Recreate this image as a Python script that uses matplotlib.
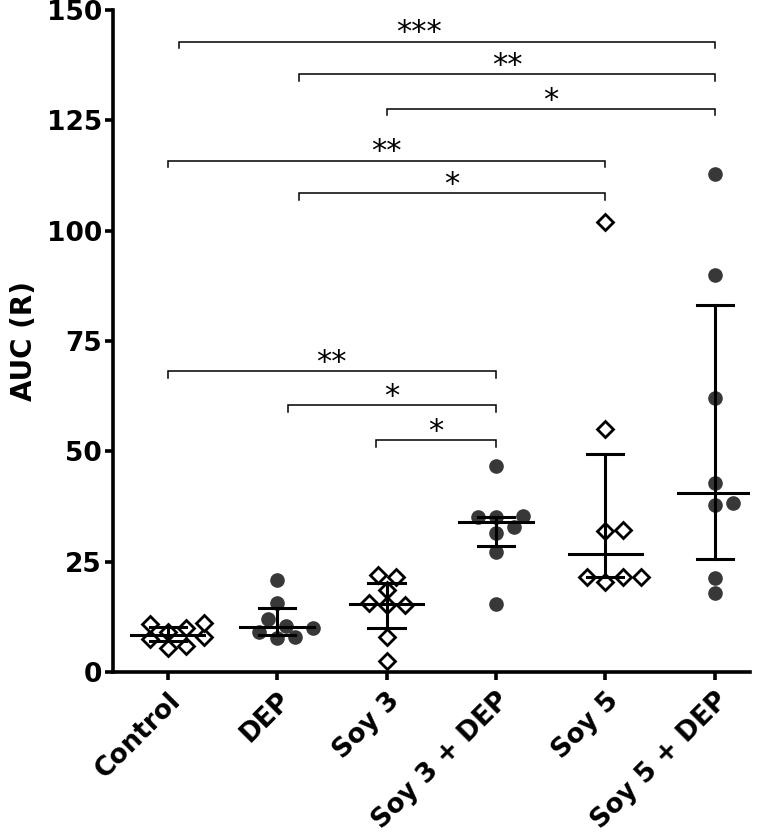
import numpy as np
import matplotlib
matplotlib.use('Agg')
import matplotlib.pyplot as plt

plt.rcParams['font.family'] = ['DejaVu Sans']

groups = ['Control', 'DEP', 'Soy 3', 'Soy 3 + DEP', 'Soy 5', 'Soy 5 + DEP']
filled = [False, True, False, True, False, True]

control = [5.5, 6.0, 7.5, 8.0, 9.0, 10.0, 10.8, 11.2]
dep = [7.7, 7.9, 9.1, 10.0, 10.4, 12.0, 15.6, 20.8]
soy3 = [2.5, 7.9, 15.2, 15.2, 15.6, 18.6, 21.5, 22.0]
soy3_dep = [15.5, 27.2, 31.5, 32.9, 35.1, 35.1, 35.4, 46.7]
soy5 = [20.3, 21.6, 21.6, 21.6, 32.0, 32.2, 55.1, 102.0]
soy5_dep = [17.9, 21.3, 37.9, 38.3, 42.8, 62.1, 90.0, 112.8]
values = [control, dep, soy3, soy3_dep, soy5, soy5_dep]

# median and interquartile range as drawn
medians = [8.5, 10.2, 15.4, 34.0, 26.8, 40.6]
q1 = [7.0, 8.4, 10.0, 28.6, 21.6, 25.6]
q3 = [10.2, 14.5, 20.2, 35.1, 49.4, 83.2]

# significance brackets: (left group, right group, height, stars)
br_left = [0.1, 1.2, 2.0, 0.0, 1.2, 0.0, 1.1, 1.9]
br_right = [5, 5, 5, 4, 4, 3, 3, 3]
br_y = [142.8, 135.5, 127.6, 115.9, 108.5, 68.2, 60.5, 52.6]
br_text = ['***', '**', '*', '**', '*', '**', '*', '*']


def swarm(vals, ax, diam_px=14.0, step_px=9.0):
    # simple beeswarm in pixel space
    pts = ax.transData.transform(np.column_stack([np.zeros(len(vals)), vals]))
    ypix = pts[:, 1]
    order = np.argsort(vals)
    placed = []
    offs = np.zeros(len(vals))
    for i in order:
        for k in range(0, 20):
            cands = [0.0] if k == 0 else [k * step_px, -k * step_px]
            ok_pos = None
            for c in cands:
                if all((c - px) ** 2 + (ypix[i] - py) ** 2 >= diam_px ** 2 for px, py in placed):
                    ok_pos = c
                    break
            if ok_pos is not None:
                offs[i] = ok_pos
                placed.append((ok_pos, ypix[i]))
                break
    x_per_px = 1.0 / (ax.transData.transform((1, 0))[0] - ax.transData.transform((0, 0))[0])
    return offs * x_per_px


fig = plt.figure(figsize=(7.73, 8.34), dpi=100)
ax = fig.add_axes([0.1462, 0.1942, 0.970 - 0.1462, 0.988 - 0.1942])
ax.set_xlim(-0.5, 5.32)
ax.set_ylim(0, 150)

for i, vals in enumerate(values):
    offs = swarm(vals, ax)
    xs = i + offs
    if filled[i]:
        ax.plot(xs, vals, 'o', ms=9.5, color='#383838', mec='#383838', zorder=3, clip_on=False)
    else:
        ax.plot(xs, vals, 'D', ms=8.6, mfc='white', mec='black', mew=2.0, zorder=3, clip_on=False)
    # median line and IQR bars
    ax.plot([i - 0.335, i + 0.335], [medians[i]] * 2, color='black', lw=2.2, zorder=4)
    ax.plot([i, i], [q1[i], q3[i]], color='black', lw=2.2, zorder=4)
    ax.plot([i - 0.165, i + 0.165], [q1[i]] * 2, color='black', lw=2.2, zorder=4)
    ax.plot([i - 0.165, i + 0.165], [q3[i]] * 2, color='black', lw=2.2, zorder=4)

drop = 1.5
for l, r, y, t in zip(br_left, br_right, br_y, br_text):
    ax.plot([l, l, r, r], [y - drop, y, y, y - drop], color='black', lw=1.1, zorder=2,
            solid_joinstyle='miter')
    xm = (l + r) / 2
    if t == '***':
        xm -= 0.25
    ax.text(xm, y + 2.0, t, ha='center', va='center', fontsize=22)

for side in ['top', 'right']:
    ax.spines[side].set_visible(False)
for side in ['left', 'bottom']:
    ax.spines[side].set_linewidth(2.6)

ax.set_yticks([0, 25, 50, 75, 100, 125, 150])
ax.set_xticks(range(len(groups)))
ax.set_xticklabels(groups, rotation=45, ha='right', rotation_mode='anchor',
                   fontsize=19, fontweight='bold')
ax.tick_params(axis='both', length=6, width=2.6)
ax.tick_params(axis='y', labelsize=19, pad=2)
ax.tick_params(axis='x', pad=5)
for lab in ax.get_yticklabels():
    lab.set_fontweight('bold')
ax.set_ylabel('AUC (R)', fontsize=20, fontweight='bold', labelpad=6)

fig.savefig('out.png', dpi=100)
